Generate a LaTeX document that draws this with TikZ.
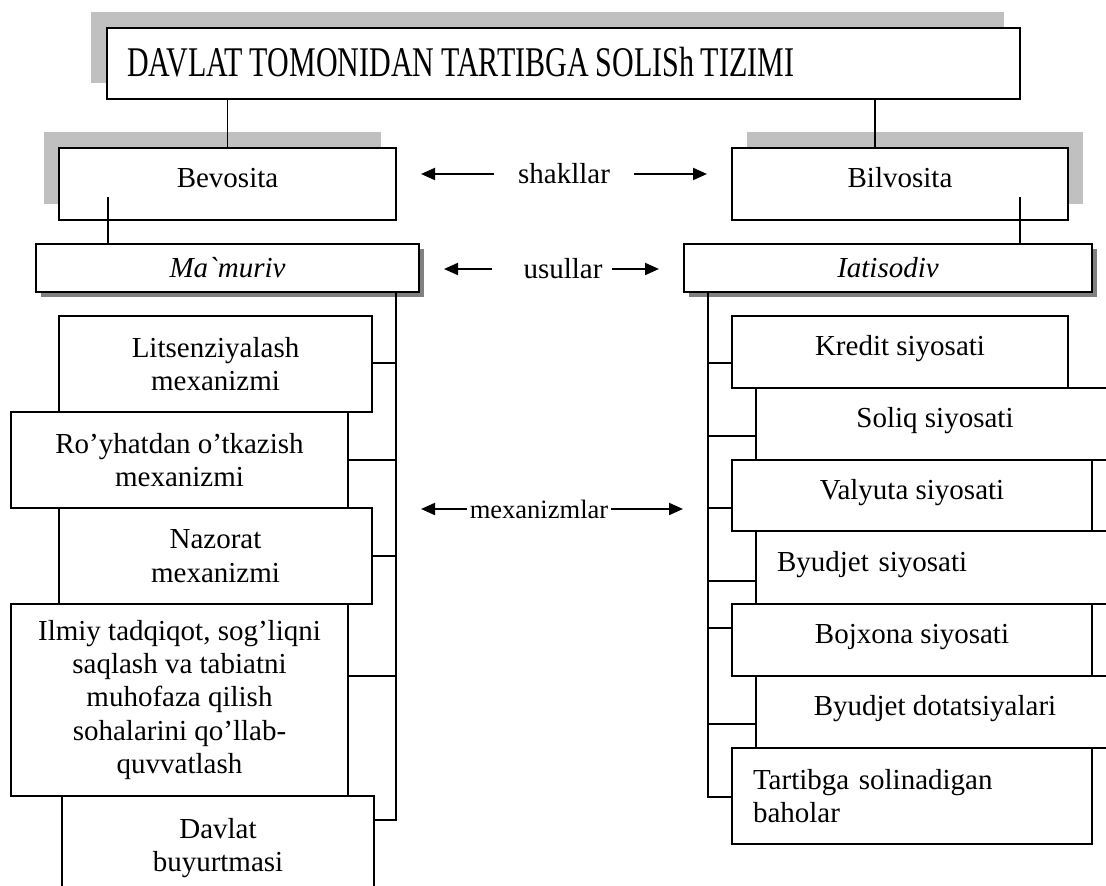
\documentclass[tikz,border=0pt]{standalone}
\usepackage{graphicx}
\usepackage{fontspec}
\setmainfont{Liberation Serif}[Ligatures=TeXOff]
\usepackage{tikz}
\usetikzlibrary{arrows.meta,shadows}
\definecolor{LGray}{HTML}{C0C0C0}
\definecolor{DGray}{HTML}{808080}
\newcommand{\fs}{\fontsize{21.75pt}{25pt}\selectfont}
\newcommand{\fsm}{\fontsize{19.9pt}{23pt}\selectfont}
\newcommand{\fst}{\fontsize{31.7pt}{36pt}\selectfont}

\begin{document}
\begin{tikzpicture}[
  x=0.75pt, y=-0.75pt,
  bx/.style={draw,line width=1.2pt,fill=white,align=center,font=\fs,inner sep=2pt},
  sz/.style 2 args={minimum width=#1*0.75pt,minimum height=#2*0.75pt},
  lft/.style={align=left,inner xsep=15.75pt,text width=#1},
  one/.style={text height=15pt,text depth=9.75pt},
  ls/.style={line width=1.2pt},
  lb/.style={font=\fs,inner ysep=0pt},
  a/.style={-{Triangle[length=10.5pt,width=9pt]},line width=1.5pt},
  tsh/.style={drop shadow={shadow xshift=-12pt,shadow yshift=12pt,fill=LGray,opacity=1}},
  lsh/.style={drop shadow={shadow xshift=-11.25pt,shadow yshift=12pt,fill=LGray,opacity=1}},
  rsh/.style={drop shadow={shadow xshift=11.25pt,shadow yshift=12pt,fill=LGray,opacity=1}},
  dsh/.style={drop shadow={shadow xshift=3.75pt,shadow yshift=-3.75pt,fill=DGray,opacity=1}}
]
  \useasboundingbox (0,0) rectangle (1106,885);
  \clip (0,0) rectangle (1106,885);
  \fill[white] (0,0) rectangle (1106,885);

  % top level
  \node[bx,sz={913}{71},lft=654.75pt,inner xsep=15pt,text depth=3pt,tsh] (top) at (563.5,63.5)
    {\scalebox{0.71}[1]{\fst DAVLAT TOMONIDAN TARTIBGA SOLISh TIZIMI}};
  \node[bx,one,sz={337}{72},lsh] (bev) at (227.5,184) {Bevosita};
  \node[bx,one,sz={336}{72},rsh] (bil) at (900,184) {Bilvosita};
  \node[bx,sz={383}{48},dsh] (mam) at (227.5,268) {\itshape Ma`muriv};
  \node[bx,sz={408}{48},dsh] (iat) at (888,268) {\itshape Iatisodiv};

  % left column
  \node[bx,sz={313}{96}] (lit) at (215.5,364) {Litsenziyalash\\mexanizmi};
  \node[bx,sz={337}{96}] (roy) at (179.5,460) {Ro’yhatdan o’tkazish\\mexanizmi};
  \node[bx,sz={313}{96}] (naz) at (215.5,556) {Nazorat\\mexanizmi};
  \node[bx,sz={337}{192}] (ilm) at (179.5,700)
    {Ilmiy tadqiqot, sog’liqni\\saqlash va tabiatni\\muhofaza qilish\\sohalarini qo’llab-\\quvvatlash};
  \node[bx,sz={312}{104}] (dav) at (218,848) {Davlat\\buyurtmasi};

  % right column
  \node[bx,one,sz={336}{72}] (kre) at (900,352) {Kredit siyosati};
  \node[bx,one,sz={358}{72}] (sol) at (935,424) {Soliq siyosati};
  \node[bx,one,sz={360}{71}] (val) at (912,495.5) {Valyuta siyosati};
  \node[bx,one,sz={358}{73},lft=237pt] (byu) at (935,567.5) {Byudjet siyosati};
  \node[bx,one,sz={360}{72}] (boj) at (912,640) {Bojxona siyosati};
  \node[bx,one,sz={358}{72}] (dot) at (935,712) {Byudjet dotatsiyalari};
  \node[bx,sz={360}{96},lft=238.5pt] (tar) at (912,796) {Tartibga solinadigan\\baholar};

  % middle labels
  \node[lb,inner xsep=17.6pt] (shk) at (564,174) {shakllar};
  \node[lb,inner xsep=6.75pt] (usl) at (563,269) {usullar};
  \node[lb,font=\fsm,inner xsep=1.5pt] (mex) at (539,509) {mexanizmlar};

  \draw[a] (shk.west) -- (shk.west -| 421,0);
  \draw[a] (shk.east) -- (shk.east -| 707,0);
  \draw[a] ([xshift=-16.5pt]usl.west) -- (usl.west -| 444,0);
  \draw[a] (usl.east) -- (usl.east -| 659,0);
  \draw[a] (mex.west) -- (mex.west -| 421,0);
  \draw[a] (mex.east) -- (mex.east -| 683,0);

  % connectors
  \draw[ls] (top.south -| bev.north) -- (bev.north);
  \draw[ls] (top.south -| 875,0) -- (bil.north -| 875,0);
  \draw[ls] (bev.south -| 108,0) ++(0,-24) -- (mam.north -| 108,0);
  \draw[ls] (bil.south -| 1020,0) ++(0,-24) -- (iat.north -| 1020,0);

  \draw[ls] (mam.south -| 396,0) -- (396,820) -- (dav.east |- 0,820);
  \foreach \n/\y in {lit/363,roy/460,naz/556,ilm/676}
    \draw[ls] (\n.east |- 0,\y) -- (396,\y);

  \draw[ls] (iat.south -| 708,0) -- (708,797) -- (tar.west |- 0,797);
  \foreach \n/\y in {kre/363,sol/436,val/508,byu/581,boj/628,dot/724}
    \draw[ls] (\n.west |- 0,\y) -- (708,\y);
\end{tikzpicture}
\end{document}
